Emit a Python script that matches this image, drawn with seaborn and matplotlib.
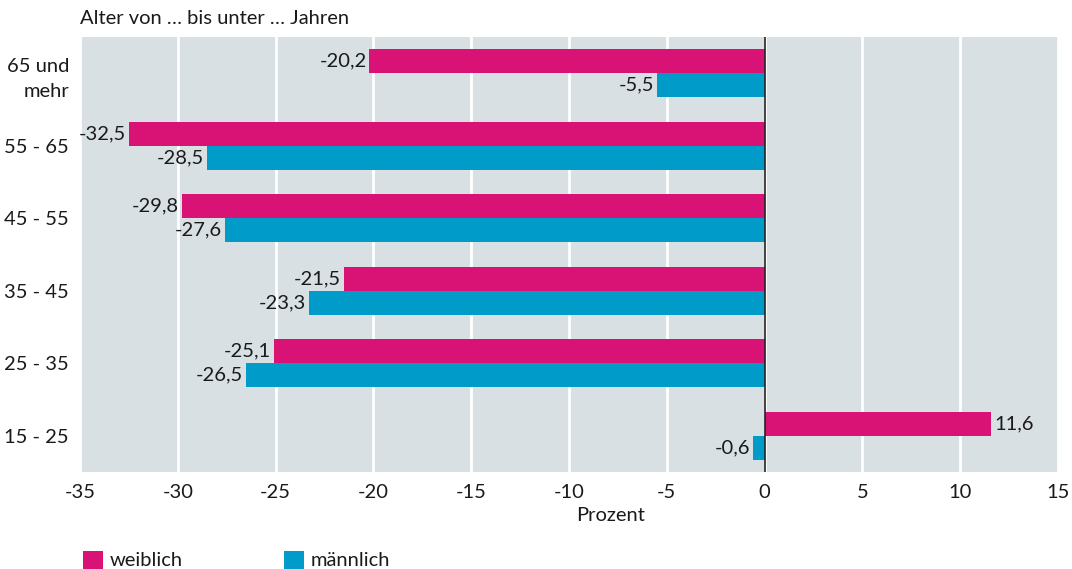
import matplotlib
matplotlib.use("Agg")
import matplotlib.pyplot as plt
import seaborn as sns
import pandas as pd
from matplotlib.patches import Patch

categories = ["65 und\nmehr", "55 - 65", "45 - 55", "35 - 45", "25 - 35", "15 - 25"]
weiblich = [-20.2, -32.5, -29.8, -21.5, -25.1, 11.6]
maennlich = [-5.5, -28.5, -27.6, -23.3, -26.5, -0.6]
series_names = ["weiblich", "männlich"]
colors = ["#d91376", "#009bc8"]
xticks = [-35, -30, -25, -20, -15, -10, -5, 0, 5, 10, 15]

FS = 14.5

sns.set_theme(style="white")
plt.rcParams["font.family"] = ["Lato", "DejaVu Sans"]
plt.rcParams["text.color"] = "#1a1a1a"

df = pd.DataFrame({
    "Alter": categories * 2,
    "Wert": weiblich + maennlich,
    "Geschlecht": [series_names[0]] * len(categories) + [series_names[1]] * len(categories),
})

fig = plt.figure(figsize=(10.72, 5.69), dpi=100)
ax = fig.add_axes([80 / 1072, 1 - 472 / 569, 978 / 1072, 435 / 569])
ax.set_facecolor("#d8e0e3")

sns.barplot(data=df, x="Wert", y="Alter", hue="Geschlecht", order=categories,
            hue_order=series_names, palette=colors, orient="h", width=0.667,
            saturation=1, ax=ax, legend=False, edgecolor="none", linewidth=0)

ax.set_xlim(-35, 15)
ax.set_ylim(5.5, -0.5)
ax.set_xticks(xticks)
ax.set_xticklabels([str(t) for t in xticks], fontsize=FS, color="#1a1a1a")
ax.tick_params(axis="y", labelsize=FS, colors="#1a1a1a", length=0, pad=8)
ax.tick_params(axis="x", length=0, pad=9)
for lab in ax.get_yticklabels():
    lab.set_horizontalalignment("right")
    lab.set_multialignment("right")
    lab.set_linespacing(1.6)
ax.grid(axis="x", color="white", linewidth=2)
ax.set_axisbelow(True)
for s in ax.spines.values():
    s.set_visible(False)
ax.axvline(0, color="#222222", linewidth=1.2, zorder=5)

for cont in ax.containers:
    for bar in cont:
        w = bar.get_width()
        y = bar.get_y() + bar.get_height() / 2
        txt = f"{w:.1f}".replace(".", ",")
        if w < 0:
            ax.text(w - 0.15, y, txt, ha="right", va="center", fontsize=FS, color="#1a1a1a")
        else:
            ax.text(w + 0.15, y, txt, ha="left", va="center", fontsize=FS, color="#1a1a1a")

ax.set_ylabel("")
ax.set_xlabel("Prozent", fontsize=FS, color="#1a1a1a")
ax.xaxis.set_label_coords((611 - 80) / 978, -0.08)

fig.text(80 / 1072, 1 - 18 / 569, "Alter von … bis unter … Jahren", fontsize=FS,
         ha="left", va="center", color="#1a1a1a")

handles = [Patch(facecolor=c, edgecolor="none") for c in colors]
leg = fig.legend(handles, series_names, loc="center left", bbox_to_anchor=(83 / 1072, 1 - 560 / 569),
                 ncol=2, frameon=False, fontsize=FS, handlelength=1.0, handleheight=1.0,
                 handletextpad=0.3, columnspacing=5.05, borderaxespad=0, borderpad=0)

fig.savefig("out.png", dpi=100)
